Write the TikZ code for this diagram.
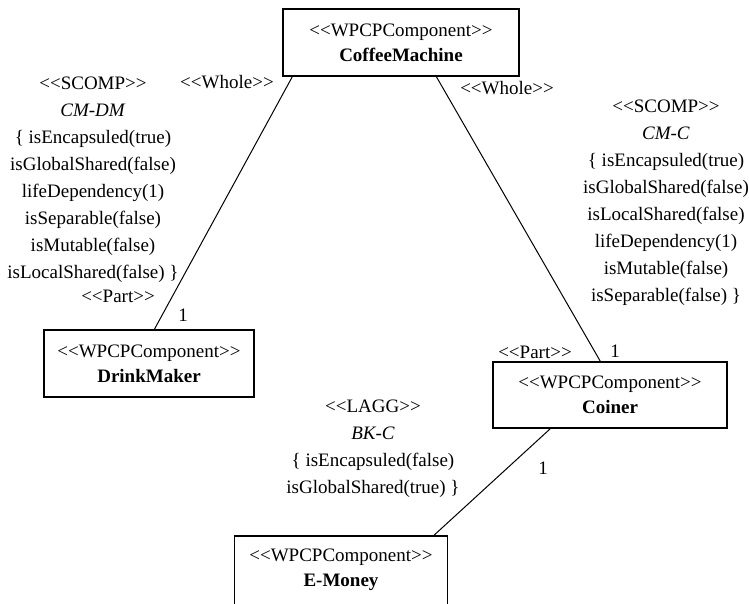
\documentclass[tikz,border=0pt]{standalone}
\usepackage{fontspec}
\setmainfont{Liberation Serif}
\usetikzlibrary{calc}
\newcommand{\stlo}{<{}<}
\newcommand{\sthi}{>{}>}
\begin{document}
\begin{tikzpicture}[x=1pt,y=-1pt,
  comp/.style={draw, line width=1.3pt, rectangle, inner sep=0pt, align=center,
    font=\fontsize{19}{25}\selectfont},
  boxline/.style={line width=1.3pt},
  lbl/.style={inner sep=0pt, align=center, font=\fontsize{19}{27}\selectfont},
  conn/.style={line width=1pt}]
\useasboundingbox (0,0) rectangle (749,603);
\clip (0,0) rectangle (749,603);
\node[comp, minimum width=236pt, minimum height=67pt] (cm) at (401,42.5) {\stlo WPCPComponent\sthi\\\textbf{CoffeeMachine}};
\node[comp, minimum width=210pt, minimum height=67pt] (dm) at (149,363.5) {\stlo WPCPComponent\sthi\\\textbf{DrinkMaker}};
\node[comp, minimum width=234pt, minimum height=66pt] (co) at (610,395) {\stlo WPCPComponent\sthi\\\textbf{Coiner}};
\node[comp, draw=none, minimum width=212pt, minimum height=67pt] (em) at (341,570) {\stlo WPCPComponent\sthi\\\textbf{E-Money}};
\draw[boxline] ([yshift=-15pt]em.south west) -- (em.north west) -- (em.north east) -- ([yshift=-15pt]em.south east);

\draw[conn] ([xshift=10pt]cm.south west) -- ([xshift=111pt]dm.north west);
\draw[conn] ([xshift=154pt]cm.south west) -- ([xshift=108pt]co.north west);
\draw[conn] ([xshift=58pt]co.south west) -- ([xshift=199pt]em.north west);

\node[lbl] (w1) at (227,82) {\stlo Whole\sthi};
\node[lbl] (w2) at (507,88) {\stlo Whole\sthi};
\node[lbl] (b1) at (93,180) {\stlo SCOMP\sthi\\\textit{CM-DM}\\\{ isEncapsuled(true)\\isGlobalShared(false)\\lifeDependency(1)\\isSeparable(false)\\isMutable(false)\\isLocalShared(false) \}};
\node[lbl] (p1) at (118,296) {\stlo Part\sthi};
\node[lbl] (n1) at (183,315) {1};
\node[lbl] (b2) at (666,203) {\stlo SCOMP\sthi\\\textit{CM-C}\\\{ isEncapsuled(true)\\isGlobalShared(false)\\isLocalShared(false)\\lifeDependency(1)\\isMutable(false)\\isSeparable(false) \}};
\node[lbl] (p2) at (535,352) {\stlo Part\sthi};
\node[lbl] (n2) at (615,351) {1};
\node[lbl] (b3) at (373,449) {\stlo LAGG\sthi\\\textit{BK-C}\\\{ isEncapsuled(false)\\isGlobalShared(true) \}};
\node[lbl] (n3) at (543,468) {1};
\end{tikzpicture}
\end{document}
